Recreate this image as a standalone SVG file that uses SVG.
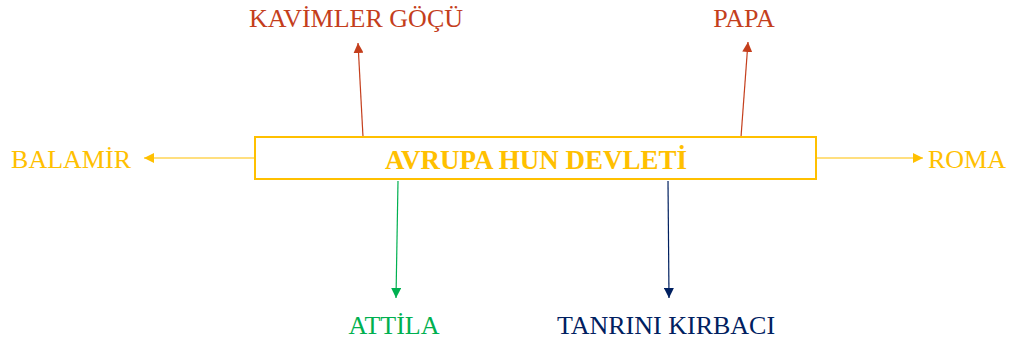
<svg xmlns="http://www.w3.org/2000/svg" width="1016" height="342" viewBox="0 0 1016 342">
<style>
text{font-family:'Liberation Serif','Times New Roman',Tinos,'DejaVu Serif',serif;font-size:26px}
.title{font-size:27px;font-weight:bold}
.red{fill:#C43E1C}.gold{fill:#FFC000}.green{fill:#00B050}.navy{fill:#002060}
.l{fill:none;stroke-width:1.2}
</style>
<defs>
<marker id="mr" viewBox="0 0 10 10" refX="10" refY="5" markerWidth="10" markerHeight="10" markerUnits="userSpaceOnUse" orient="auto"><path d="M0,0L10,5L0,10z" fill="#C43E1C"/></marker>
<marker id="mg" viewBox="0 0 10 10" refX="10" refY="5" markerWidth="10" markerHeight="10" markerUnits="userSpaceOnUse" orient="auto"><path d="M0,0L10,5L0,10z" fill="#FFC000"/></marker>
<marker id="mgr" viewBox="0 0 10 10" refX="10" refY="5" markerWidth="10" markerHeight="10" markerUnits="userSpaceOnUse" orient="auto"><path d="M0,0L10,5L0,10z" fill="#00B050"/></marker>
<marker id="mn" viewBox="0 0 10 10" refX="10" refY="5" markerWidth="10" markerHeight="10" markerUnits="userSpaceOnUse" orient="auto"><path d="M0,0L10,5L0,10z" fill="#002060"/></marker>
</defs>
<g id="connectors">
<line class="l" x1="363" y1="137" x2="358" y2="43" stroke="#C43E1C" marker-end="url(#mr)"/>
<line class="l" x1="741" y1="137" x2="748" y2="42" stroke="#C43E1C" marker-end="url(#mr)"/>
<line class="l" x1="255" y1="158" x2="144" y2="158" stroke="#FFC000" marker-end="url(#mg)"/>
<line class="l" x1="816" y1="158" x2="923" y2="158" stroke="#FFC000" marker-end="url(#mg)"/>
<line class="l" x1="398" y1="181" x2="396" y2="298" stroke="#00B050" marker-end="url(#mgr)"/>
<line class="l" x1="668" y1="181" x2="669" y2="298" stroke="#002060" marker-end="url(#mn)"/>
</g>
<g id="main">
<rect x="255" y="137" width="561" height="42" fill="#fff" stroke="#FFC000" stroke-width="2"/>
<text x="536" y="169" text-anchor="middle" class="gold title">AVRUPA HUN DEVLETİ</text>
</g>
<g id="kavimler"><text x="356" y="27" text-anchor="middle" class="red">KAVİMLER GÖÇÜ</text></g>
<g id="papa"><text x="744" y="27" text-anchor="middle" class="red">PAPA</text></g>
<g id="balamir"><text x="131" y="168" text-anchor="end" class="gold">BALAMİR</text></g>
<g id="roma"><text x="928" y="168" class="gold">ROMA</text></g>
<g id="attila"><text x="394" y="334" text-anchor="middle" class="green">ATTİLA</text></g>
<g id="tanri"><text x="666" y="334" text-anchor="middle" class="navy">TANRINI KIRBACI</text></g>
</svg>
